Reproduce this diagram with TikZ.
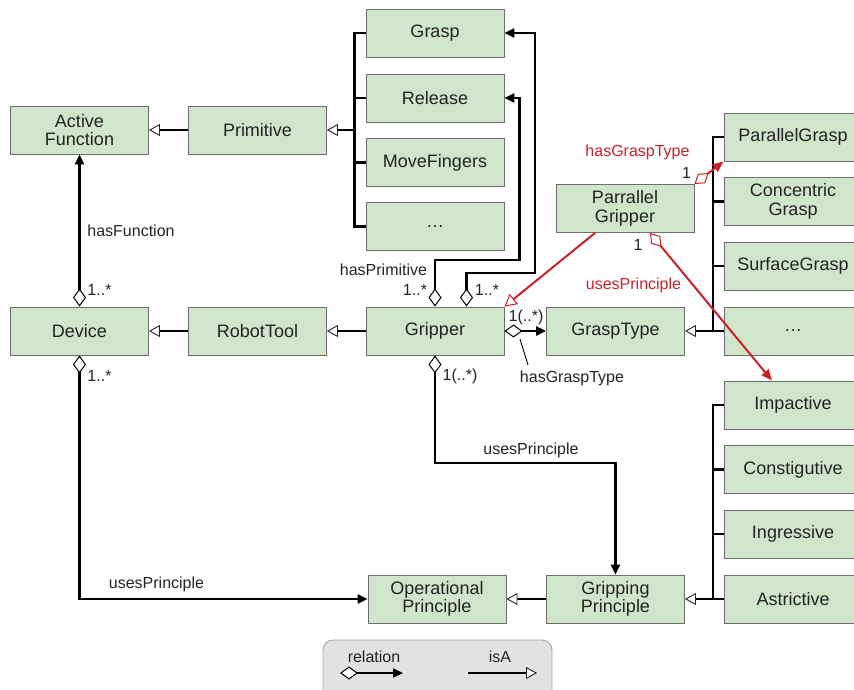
\documentclass[tikz,border=0pt]{standalone}
\usepackage{fontspec}
\setmainfont{Liberation Sans}
\usetikzlibrary{arrows.meta,calc}
\definecolor{boxfill}{RGB}{207,230,202}
\definecolor{boxline}{RGB}{110,110,110}
\definecolor{ink}{RGB}{35,35,35}
\definecolor{relred}{RGB}{204,32,39}
\definecolor{legfill}{RGB}{226,226,226}
\definecolor{legline}{RGB}{165,165,165}
\begin{document}
\begin{tikzpicture}[x=1pt,y=-1pt,
  box/.style={draw=boxline, line width=0.9pt, fill=boxfill, minimum width=138pt,
    minimum height=48pt, inner sep=0pt, align=center, text=ink,
    font=\fontsize{18}{18.5}\selectfont},
  lbl/.style={text=ink, font=\fontsize{16}{16}\selectfont, inner sep=0pt},
  rlbl/.style={lbl, text=relred},
  tree/.style={draw=black, line width=2.6pt},
  rel/.style={draw=black, line width=2.4pt,
    {Diamond[fill=white,length=18pt,width=13pt,line width=1pt]}-{Triangle[length=10pt,width=9pt]}},
  isa/.style={draw=black, line width=2.6pt,
    -{Triangle[color=ink,fill=white,length=11pt,width=12pt,line width=0.9pt]}},
  redrel/.style={draw=relred, line width=2pt,
    {Diamond[color=relred,fill=white,length=18pt,width=12pt,line width=1pt]}-{Triangle[length=11pt,width=9pt]}},
  redisa/.style={draw=relred, line width=2pt,
    -{Triangle[color=relred,fill=white,length=12pt,width=13pt,line width=1pt]}},
]
\useasboundingbox (0,0) rectangle (854,689);

% ---------- classes ----------
\node[box] (act)   at (79.5,130)  {Active\\Function};
\node[box] (prim)  at (257.5,130) {Primitive};
\node[box] (grasp) at (435,33)    {Grasp};
\node[box] (release) at (435,98)  {Release};
\node[box] (move)  at (435,162.5) {MoveFingers};
\node[box] (dotsa) at (435,226.5) {\dots};
\node[box] (dev)   at (79.5,331)  {Device};
\node[box] (robot) at (257.5,331) {RobotTool};
\node[box] (grip)  at (435,331)   {Gripper};
\node[box] (gtype) at (615.5,331) {GraspType};
\node[box] (pgrip) at (625,208.5) {Parrallel\\Gripper};
\node[box] (pgrasp) at (793,137)  {ParallelGrasp};
\node[box] (cgrasp) at (793,201.5) {Concentric\\Grasp};
\node[box] (sgrasp) at (793,266)  {SurfaceGrasp};
\node[box] (dotsb) at (793,331)   {\dots};
\node[box] (imp)   at (793,405)   {Impactive};
\node[box] (cons)  at (793,469.5) {Constigutive};
\node[box] (ingr)  at (793,534)   {Ingressive};
\node[box] (astr)  at (793,599)   {Astrictive};
\node[box] (op)    at (437,599)   {Operational\\Principle};
\node[box] (gp)    at (615.5,599) {Gripping\\Principle};

% ---------- isA hierarchy ----------
\draw[isa] (prim.west) -- (act.east);
\draw[isa] (robot.west) -- (dev.east);
\draw[isa] (grip.west) -- (robot.east);
\draw[isa] (gp.west) -- (op.east);

\coordinate (ta) at (354.5,130);
\draw[tree] (grasp.west) -| (ta) |- (dotsa.west);
\draw[tree] (release.west) -- (release.west -| ta);
\draw[tree] (move.west) -- (move.west -| ta);
\draw[isa] (ta) -- (prim.east);

\coordinate (tb) at (713,331);
\draw[tree] (pgrasp.west) -| (tb) -- (dotsb.west);
\draw[tree] (cgrasp.west) -- (cgrasp.west -| tb);
\draw[tree] (sgrasp.west) -- (sgrasp.west -| tb);
\draw[isa] (tb) -- (gtype.east);

\coordinate (tc) at (713,599);
\draw[tree] (imp.west) -| (tc) -- (astr.west);
\draw[tree] (cons.west) -- (cons.west -| tc);
\draw[tree] (ingr.west) -- (ingr.west -| tc);
\draw[isa] (tc) -- (gp.east);

% ---------- relations ----------
\draw[rel] (dev.north) -- (act.south);
\node[lbl] (hasfun) at (131,231) {hasFunction};
\node[lbl] (mdevu) at (99.5,290) {1..*};

\draw[rel] (dev.south) |- (op.west);
\node[lbl] (mdevd) at (99.5,376) {1..*};
\node[lbl] (usesa) at (156.5,584) {usesPrinciple};

\coordinate (ra) at (519.5,260);
\coordinate (rb) at (535,273);
\draw[rel] (grip.north) |- (ra) |- (release.east);
\draw[rel] ([xshift=31.5pt]grip.north) |- (rb) |- (grasp.east);
\node[lbl] (hasprim) at (383.5,270) {hasPrimitive};
\node[lbl] (mpa) at (415,290) {1..*};
\node[lbl] (mpb) at (487,290) {1..*};

\draw[rel] (grip.east) -- (gtype.west);
\node[lbl] (mgt) at (526,317) {1(..*)};
\node[lbl] (hasgt) at (572,378) {hasGraspType};
\coordinate (lda) at (520,339);
\coordinate (ldb) at (528,365);
\draw[line width=0.9pt] (lda) -- (ldb);

\coordinate (gbend) at (615.5,463);
\draw[rel] (grip.south) |- (gbend) -- (gp.north);
\node[lbl] (mgp) at (460,376) {1(..*)};
\node[lbl] (usesb) at (531,450) {usesPrinciple};

% ---------- parallel gripper specifics ----------
\draw[redisa] ([xshift=-30pt]pgrip.south) -- (grip.north east);
\draw[redrel] (pgrip.north east) -- (pgrasp.south west);
\node[rlbl] (rhasgt) at (637.5,152) {hasGraspType};
\node[lbl] (rma) at (686.5,173) {1};
\draw[redrel] ([xshift=25pt]pgrip.south) -- ([xshift=-21pt]imp.north);
\node[lbl] (rmb) at (638,245) {1};
\node[rlbl] (ruses) at (633.5,285) {usesPrinciple};

% ---------- legend ----------
\node[draw=legline, fill=legfill, line width=0.9pt, rounded corners=10pt,
  minimum width=229pt, minimum height=60pt, inner sep=0pt] (legend) at (437.5,670) {};
\node[lbl] (lrel) at (374,657) {relation};
\node[lbl] (lisa) at (500,657) {isA};
\coordinate (lra) at (340,673);
\coordinate (lrb) at (403,673);
\coordinate (lia) at (468,673);
\coordinate (lib) at (537,673);
\draw[rel, line width=2pt] (lra) -- (lrb);
\draw[isa, line width=2pt] (lia) -- (lib);
\end{tikzpicture}
\end{document}
